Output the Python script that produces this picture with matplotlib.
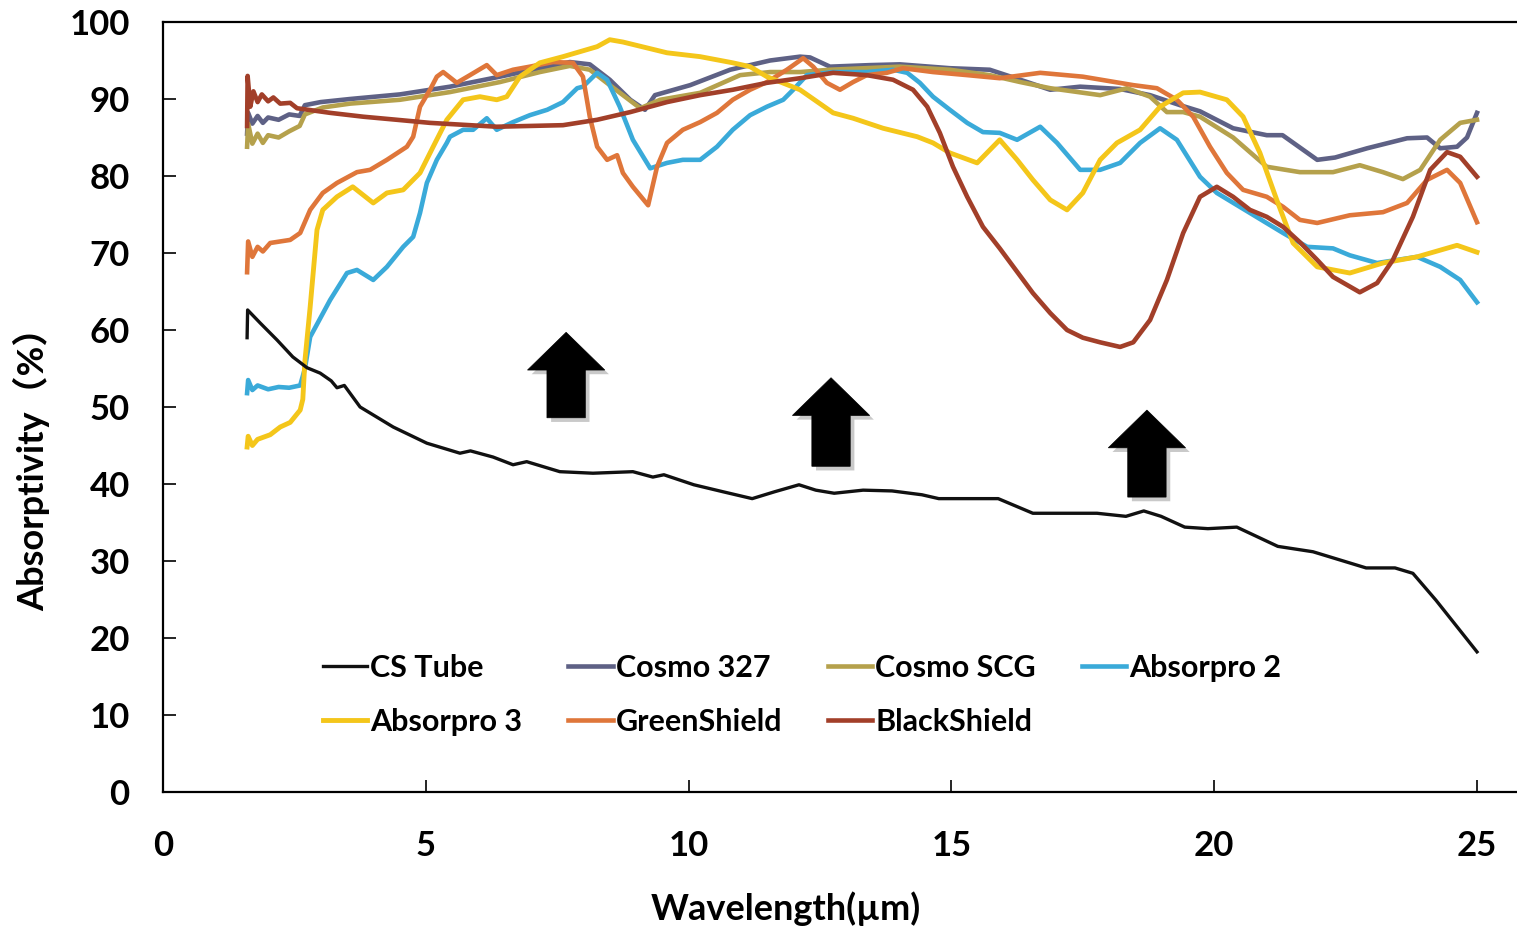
import matplotlib
matplotlib.use("Agg")
import matplotlib.pyplot as plt
from matplotlib.patches import FancyArrow
import matplotlib.patheffects as pe

plt.rcParams['font.family'] = ['Lato', 'Noto Sans CJK SC', 'DejaVu Sans']
plt.rcParams['font.weight'] = 'bold'

# ---------------- data ----------------
cs_x = [1.60, 1.61, 1.85, 2.17, 2.47, 2.74, 2.99, 3.2, 3.31, 3.45, 3.75, 4.38, 5.02, 5.65, 5.85, 6.28, 6.66, 6.92,
        7.55, 8.18, 8.94, 9.32, 9.53, 10.10, 10.65, 11.21, 11.64, 12.10, 12.42, 12.77, 13.32, 13.87, 14.44, 14.76,
        15.89, 16.55, 17.77, 18.32, 18.66, 18.99, 19.44, 19.88, 20.43, 21.21, 21.88, 22.89, 23.44, 23.78, 24.22, 25.0]
cs_y = [59.0, 62.6, 60.9, 58.7, 56.5, 55.1, 54.4, 53.4, 52.5, 52.8, 50.0, 47.4, 45.3, 44.0, 44.3, 43.5, 42.5, 42.9,
        41.6, 41.4, 41.6, 40.9, 41.2, 39.9, 39.0, 38.1, 39.0, 39.9, 39.2, 38.8, 39.2, 39.1, 38.6, 38.1,
        38.1, 36.2, 36.2, 35.8, 36.5, 35.8, 34.4, 34.2, 34.4, 31.9, 31.2, 29.1, 29.1, 28.4, 24.9, 18.2]

c327_x = [1.60, 1.62, 1.7, 1.8, 1.9, 2.0, 2.2, 2.4, 2.6, 2.7, 3.0, 3.56, 4.51, 5.46, 6.41, 7.17, 7.74, 8.12, 8.5,
          8.89, 9.17, 9.36, 10.03, 10.79, 11.55, 12.12, 12.31, 12.69, 13.45, 14.02, 14.97, 15.73, 16.31, 16.88,
          17.45, 18.21, 18.78, 19.35, 19.73, 20.36, 21.0, 21.3, 21.96, 22.3, 22.91, 23.67, 24.05, 24.30, 24.62,
          24.81, 25.0]
c327_y = [85.5, 88.2, 86.8, 87.8, 86.9, 87.6, 87.3, 88.0, 87.8, 89.2, 89.6, 90.0, 90.6, 91.6, 92.9, 94.0, 94.8, 94.5,
          92.5, 89.9, 88.6, 90.5, 91.8, 93.8, 95.0, 95.5, 95.4, 94.2, 94.4, 94.5, 94.0, 93.8, 92.5, 91.2,
          91.6, 91.3, 90.5, 89.2, 88.4, 86.2, 85.3, 85.3, 82.1, 82.4, 83.6, 84.9, 85.0, 83.6, 83.8, 85.0, 88.2]

scg_x = [1.60, 1.62, 1.7, 1.8, 1.9, 2.0, 2.2, 2.4, 2.6, 2.7, 3.04, 3.56, 4.51, 5.46, 6.41, 7.17, 7.74, 8.12, 8.5,
         9.08, 9.46, 10.22, 10.98, 11.55, 12.12, 12.69, 14.02, 14.97, 15.73, 16.31, 16.88, 17.83, 18.34, 18.78,
         19.10, 19.41, 19.73, 20.36, 21.00, 21.63, 22.26, 22.77, 23.21, 23.59, 23.92, 24.30, 24.68, 25.0]
scg_y = [83.8, 86.8, 84.2, 85.5, 84.3, 85.3, 85.0, 85.8, 86.5, 88.0, 88.9, 89.4, 89.9, 90.9, 92.2, 93.5, 94.3, 93.8,
         91.8, 88.8, 89.9, 90.8, 93.1, 93.5, 93.5, 93.8, 94.2, 93.8, 93.1, 92.2, 91.4, 90.5, 91.4, 90.3,
         88.3, 88.3, 87.7, 85.0, 81.2, 80.5, 80.5, 81.4, 80.5, 79.6, 80.8, 84.7, 86.9, 87.3]

ab2_x = [1.60, 1.62, 1.7, 1.8, 2.0, 2.2, 2.4, 2.61, 2.70, 2.80, 3.18, 3.50, 3.69, 4.00, 4.26, 4.57, 4.76, 4.89,
         5.02, 5.21, 5.40, 5.46, 5.71, 5.90, 6.16, 6.35, 6.66, 6.98, 7.31, 7.61, 7.88, 7.99, 8.26, 8.45, 8.69,
         8.94, 9.27, 9.59, 9.89, 10.22, 10.54, 10.84, 11.17, 11.49, 11.80, 11.99, 12.25, 12.75, 13.39, 13.89,
         14.16, 14.40, 14.65, 14.97, 15.30, 15.60, 15.92, 16.25, 16.69, 17.01, 17.45, 17.83, 18.21, 18.59,
         18.97, 19.29, 19.73, 20.05, 20.68, 21.31, 21.77, 22.26, 22.58, 23.10, 23.86, 24.30, 24.68, 25.0]
ab2_y = [51.8, 53.5, 52.2, 52.8, 52.3, 52.6, 52.5, 52.8, 55.0, 59.1, 63.9, 67.4, 67.8, 66.5, 68.2, 70.8, 72.1, 75.2,
         79.1, 82.1, 84.3, 85.1, 86.0, 86.0, 87.5, 86.0, 87.0, 87.9, 88.6, 89.6, 91.4, 91.6, 93.4, 92.5, 89.0,
         84.7, 81.0, 81.7, 82.1, 82.1, 83.8, 86.0, 87.9, 89.0, 89.9, 91.2, 93.1, 93.5, 93.5, 93.8,
         93.4, 92.1, 90.3, 88.6, 86.9, 85.7, 85.6, 84.7, 86.4, 84.3, 80.8, 80.8, 81.7, 84.3,
         86.2, 84.7, 79.9, 77.8, 75.2, 72.6, 70.8, 70.6, 69.7, 68.7, 69.5, 68.2, 66.5, 63.6]

ab3_x = [1.60, 1.62, 1.7, 1.8, 2.04, 2.23, 2.42, 2.61, 2.66, 2.70, 2.80, 2.93, 3.04, 3.31, 3.61, 4.00, 4.26, 4.57,
         4.89, 5.14, 5.40, 5.71, 6.03, 6.35, 6.54, 6.79, 7.17, 7.61, 8.26, 8.50, 8.75, 9.59, 10.22, 10.84, 11.17,
         11.49, 12.12, 12.75, 13.13, 13.70, 14.35, 14.65, 14.97, 15.49, 15.92, 16.25, 16.55, 16.88, 17.20, 17.50,
         17.83, 18.15, 18.59, 18.97, 19.41, 19.73, 20.24, 20.55, 20.87, 21.19, 21.50, 21.96, 22.58, 23.21, 23.86,
         24.62, 25.0]
ab3_y = [44.8, 46.2, 45.0, 45.8, 46.4, 47.4, 48.0, 49.6, 51.0, 56.0, 63.0, 73.0, 75.6, 77.3, 78.6, 76.5, 77.8, 78.2,
         80.4, 83.8, 87.3, 89.9, 90.3, 89.9, 90.3, 92.9, 94.7, 95.5, 96.8, 97.7, 97.4, 96.0, 95.5, 94.7, 94.2,
         92.9, 91.2, 88.2, 87.5, 86.2, 85.1, 84.3, 83.0, 81.7, 84.7, 82.1, 79.5, 76.9, 75.6, 77.8,
         82.1, 84.3, 86.0, 89.0, 90.8, 90.9, 89.9, 87.7, 83.0, 76.9, 71.3, 68.2, 67.4, 68.7, 69.5,
         71.0, 70.1]

gs_x = [1.60, 1.62, 1.7, 1.8, 1.9, 2.04, 2.42, 2.61, 2.80, 3.04, 3.31, 3.69, 3.94, 4.26, 4.64, 4.76, 4.89, 5.08,
        5.21, 5.33, 5.59, 5.84, 6.16, 6.35, 6.66, 6.98, 7.42, 7.80, 7.99, 8.12, 8.26, 8.45, 8.64, 8.75, 8.94,
        9.23, 9.40, 9.59, 9.89, 10.22, 10.54, 10.84, 11.17, 11.49, 11.87, 12.18, 12.37, 12.63, 12.88, 13.13,
        13.39, 13.77, 14.08, 14.65, 15.30, 15.92, 16.69, 17.50, 18.46, 18.91, 19.29, 19.60, 19.92, 20.24,
        20.55, 21.00, 21.31, 21.63, 21.96, 22.58, 23.21, 23.67, 24.05, 24.43, 24.68, 25.0]
gs_y = [67.5, 71.5, 69.5, 70.8, 70.2, 71.3, 71.7, 72.6, 75.6, 77.8, 79.1, 80.5, 80.8, 82.1, 83.8, 85.1, 89.0, 91.2,
        92.9, 93.5, 92.1, 93.1, 94.4, 93.1, 93.8, 94.2, 94.8, 94.7, 92.9, 87.7, 83.8, 82.1, 82.7, 80.4, 78.6,
        76.2, 81.2, 84.3, 86.0, 87.0, 88.2, 89.9, 91.2, 92.2, 93.8, 95.3, 94.2, 92.1, 91.2, 92.2,
        93.1, 93.4, 94.0, 93.5, 93.1, 92.7, 93.4, 92.9, 91.8, 91.4, 89.9, 87.7, 83.8, 80.4,
        78.2, 77.3, 76.0, 74.3, 73.9, 74.9, 75.3, 76.5, 79.5, 80.8, 79.1, 74.0]

bs_x = [1.60, 1.61, 1.66, 1.72, 1.8, 1.88, 2.0, 2.1, 2.23, 2.42, 2.55, 3.18, 3.81, 4.45, 5.08, 6.35, 7.61, 8.26,
        8.89, 9.59, 10.22, 10.84, 11.49, 12.12, 12.75, 13.39, 13.89, 14.27, 14.54, 14.78, 15.03, 15.30, 15.60,
        15.92, 16.55, 16.88, 17.20, 17.50, 17.83, 18.21, 18.46, 18.78, 19.10, 19.41, 19.73, 20.05, 20.36,
        20.68, 21.00, 21.31, 21.63, 21.96, 22.26, 22.77, 23.10, 23.40, 23.78, 24.11, 24.43, 24.68, 25.0]
bs_y = [86.5, 93.0, 89.0, 91.0, 89.6, 90.6, 89.7, 90.2, 89.4, 89.5, 88.8, 88.2, 87.7, 87.3, 86.9, 86.4, 86.6, 87.3,
        88.3, 89.6, 90.5, 91.2, 92.1, 92.7, 93.4, 93.1, 92.5, 91.2, 89.0, 85.6, 81.2, 77.3, 73.4,
        70.6, 64.8, 62.2, 60.0, 59.0, 58.4, 57.8, 58.4, 61.3, 66.5, 72.6, 77.3, 78.6, 77.3,
        75.6, 74.7, 73.4, 71.4, 69.1, 66.9, 64.9, 66.1, 69.1, 74.7, 80.8, 83.1, 82.5, 79.9]

series = [
    ("CS Tube", cs_x, cs_y, "#111111", 2.4),
    ("Cosmo 327", c327_x, c327_y, "#5E6185", 3.3),
    ("Cosmo SCG", scg_x, scg_y, "#B5A14C", 3.3),
    ("Absorpro 2", ab2_x, ab2_y, "#3AAAD9", 3.3),
    ("Absorpro 3", ab3_x, ab3_y, "#F4C61A", 3.5),
    ("GreenShield", gs_x, gs_y, "#DF763A", 3.3),
    ("BlackShield", bs_x, bs_y, "#A23F29", 3.3),
]

# arrows: (x centre, base y, tip y)
arrow_x = [7.67, 12.71, 18.72]
arrow_base = [48.6, 42.3, 38.3]
arrow_tip = [59.7, 53.8, 49.6]

x_ticks = [0, 5, 10, 15, 20, 25]
y_ticks = [0, 10, 20, 30, 40, 50, 60, 70, 80, 90, 100]

# ---------------- figure ----------------
fig = plt.figure(figsize=(15.17, 9.26), dpi=100)
ax = fig.add_axes([163 / 1517, 1 - 792 / 926, (1517 - 163) / 1517, (792 - 22) / 926])

handles = {}
order_z = ["Cosmo 327", "Cosmo SCG", "Absorpro 2", "GreenShield", "Absorpro 3", "BlackShield", "CS Tube"]
for name, xs, ys, col, lw in series:
    ln, = ax.plot(xs, ys, color=col, lw=lw, label=name, solid_joinstyle='round',
                  zorder=2 + order_z.index(name) * 0.1)
    handles[name] = ln

for xc, yb, yt in zip(arrow_x, arrow_base, arrow_tip):
    arr = FancyArrow(xc, yb, 0, yt - yb, width=0.73, head_width=1.47, head_length=4.9,
                     length_includes_head=True, facecolor='black', edgecolor='black', lw=0.5, zorder=5)
    arr.set_path_effects([pe.SimplePatchShadow(offset=(3, -3), shadow_rgbFace='#888888', alpha=0.45),
                          pe.Normal()])
    ax.add_patch(arr)

ax.set_xlim(0, (1517 - 163) / 52.56)
ax.set_ylim(0, 100)
ax.set_xticks(x_ticks)
ax.set_yticks(y_ticks)
ax.tick_params(direction='in', length=9, width=1.2, labelsize=25, pad=24)
ax.tick_params(axis='x', pad=27)
for lab in ax.get_xticklabels() + ax.get_yticklabels():
    lab.set_fontweight('bold')
ax.spines['right'].set_visible(False)
for s in ['left', 'bottom', 'top']:
    ax.spines[s].set_linewidth(1.6)

ax.set_xlabel("Wavelength(µm)", fontsize=26, fontweight='bold')
ax.set_ylabel("Absorptivity（%）", fontsize=26, fontweight='bold')
ax.xaxis.set_label_coords(0.46, -0.151)
ax.yaxis.set_label_coords(-0.097, 0.431)
ax.xaxis.label.set_va('center')
ax.yaxis.label.set_va('center')

leg_order = ["CS Tube", "Absorpro 3", "Cosmo 327", "GreenShield", "Cosmo SCG", "BlackShield", "Absorpro 2"]
leg = ax.legend([handles[n] for n in leg_order], leg_order, ncol=4, loc='center',
                bbox_to_anchor=(0.472, 0.126), frameon=False, fontsize=22,
                handlelength=1.45, handletextpad=0.1, columnspacing=1.5, labelspacing=0.85)
for t in leg.get_texts():
    t.set_fontweight('bold')

fig.savefig("out.png", dpi=100, facecolor='white')
